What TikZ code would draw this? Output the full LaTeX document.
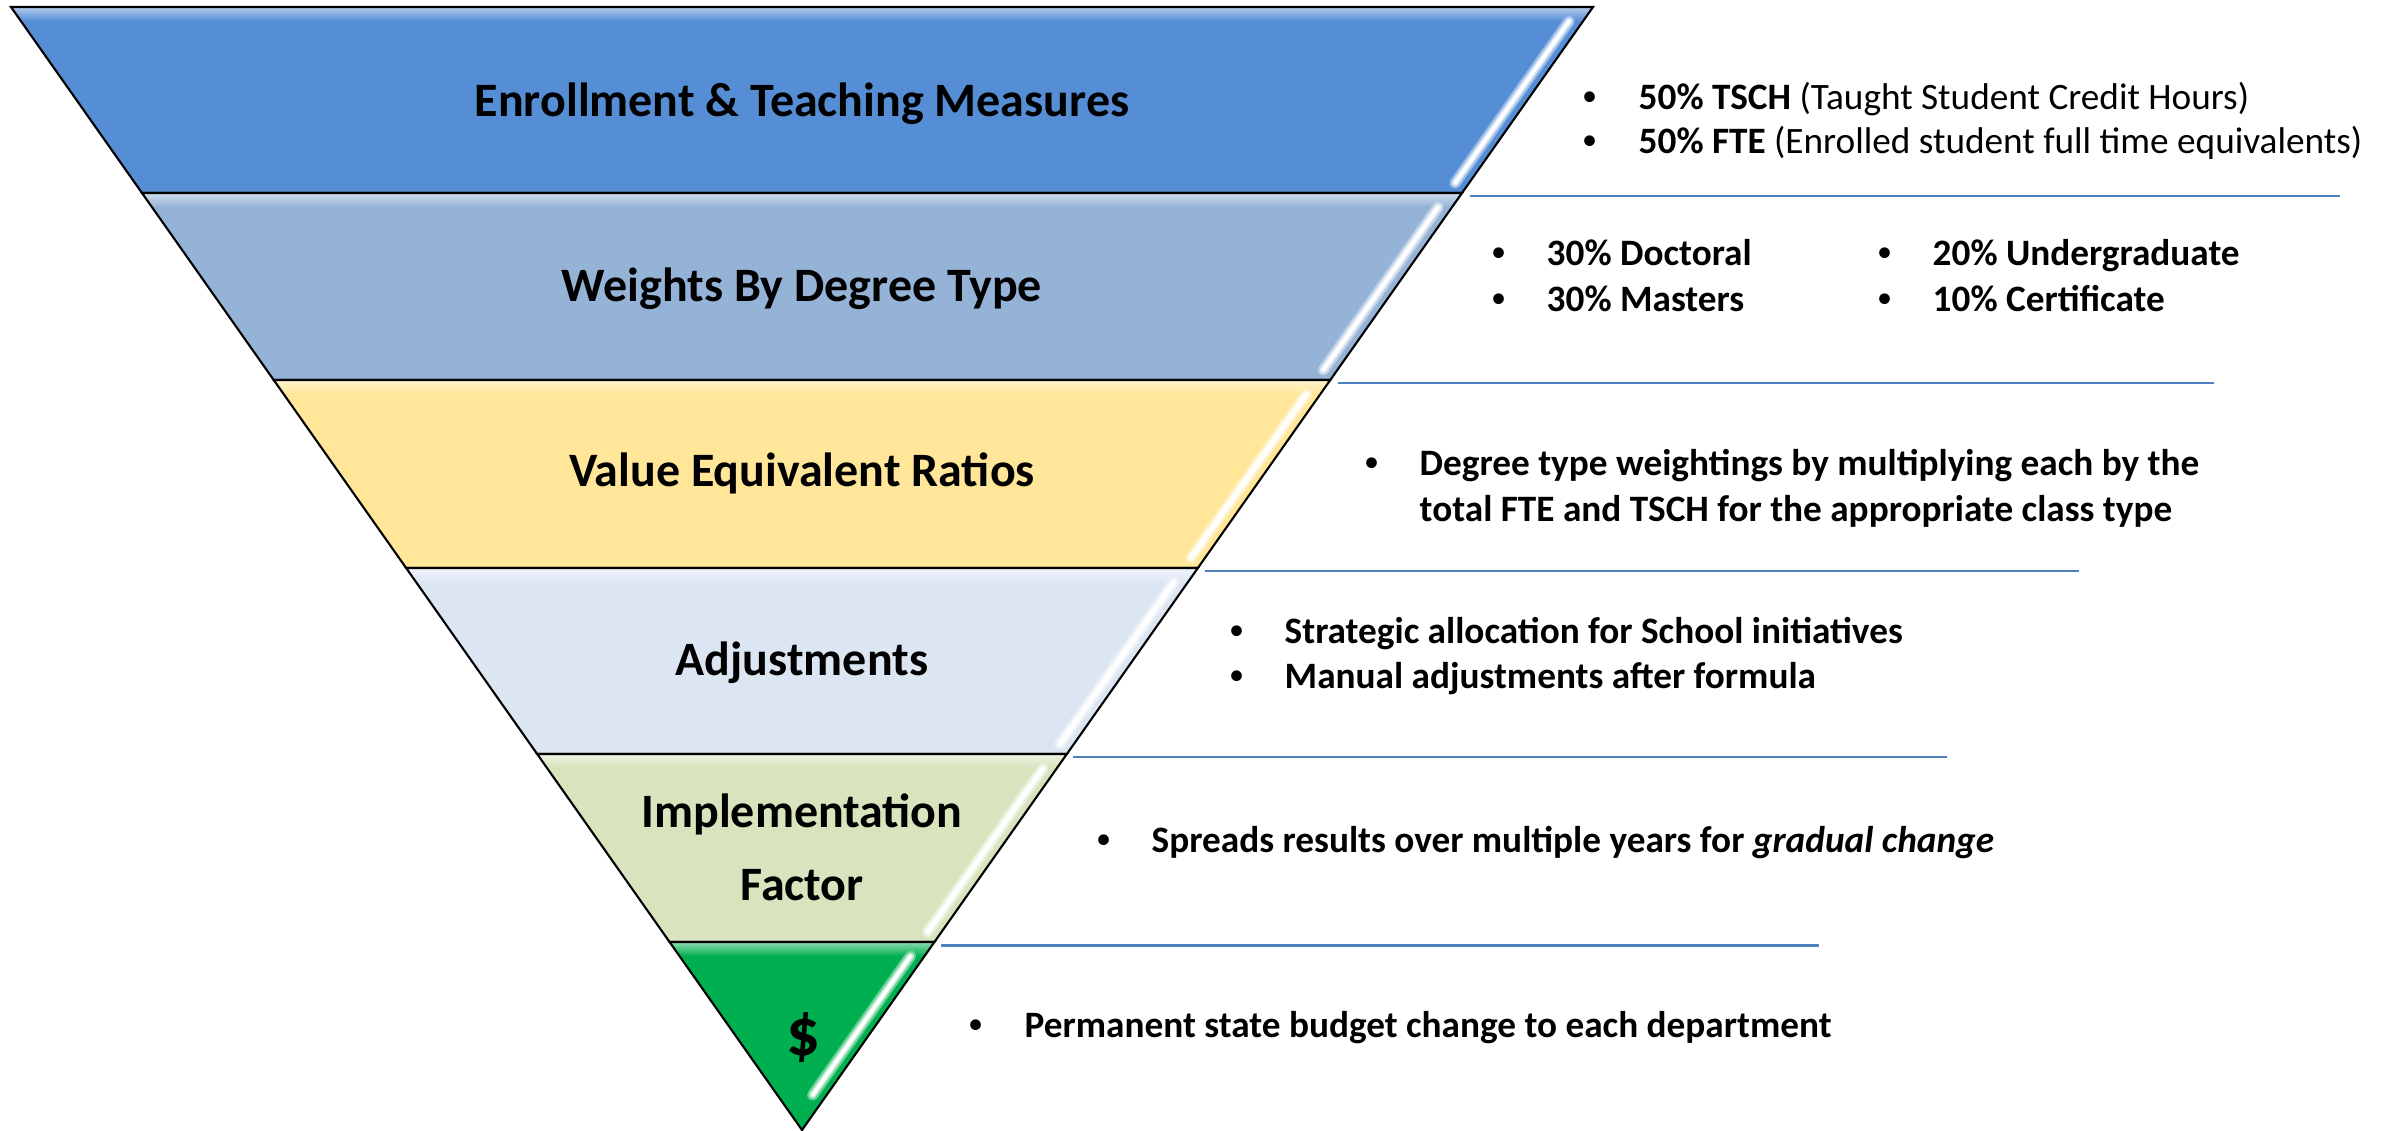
\documentclass[tikz,border=0pt]{standalone}
\usepackage{fontspec}
\setmainfont{Carlito}
\newfontfamily\bulfont{Liberation Sans}
\definecolor{cA}{HTML}{558ED5}
\definecolor{cB}{HTML}{95B3D7}
\definecolor{cC}{HTML}{FFE699}
\definecolor{cD}{HTML}{DCE6F2}
\definecolor{cE}{HTML}{D7E4BD}
\definecolor{cF}{HTML}{00B050}
\definecolor{lineblue}{HTML}{4F81BD}
\tikzset{
  title/.style={font=\fontsize{13.65}{16}\selectfont\bfseries, anchor=base, inner sep=0pt},
  bul/.style={font=\fontsize{10.6}{12}\selectfont\bfseries, anchor=base west, inner sep=0pt},
  dot/.style={font=\fontsize{10.6}{12}\selectfont\bulfont\bfseries, anchor=base west, inner sep=0pt},
  sepline/.style={draw=lineblue, line width=0.85pt},
  bandedge/.style={draw=black, line width=0.6pt, line join=miter},
}
% #1 name, #2 top y, #3 bottom y, #4 colour, #5 highlight end offset
\newcommand\drawband[5]{%
  \pgfmathsetmacro\hT{0.70437*(1130-#2)}%
  \pgfmathsetmacro\hB{0.70437*(1130-#3)}%
  \pgfmathsetmacro\yA{#2+14}%
  \pgfmathsetmacro\yB{#3-#5}%
  \pgfmathsetmacro\xA{802+0.70437*(1130-\yA)-14}%
  \pgfmathsetmacro\xB{802+0.70437*(1130-\yB)-14}%
  \coordinate (#1TL) at ({802-\hT},#2);
  \coordinate (#1TR) at ({802+\hT},#2);
  \coordinate (#1BR) at ({802+\hB},#3);
  \coordinate (#1BL) at ({802-\hB},#3);
  \coordinate (#1HA) at (\xA,\yA);
  \coordinate (#1HB) at (\xB,\yB);
  \begin{scope}
    \clip (#1TL) -- (#1TR) -- (#1BR) -- (#1BL) -- cycle;
    \fill[#4] (0,#2) rectangle (2394,#3);
    \shade[top color=#4!45!white, bottom color=#4] (0,#2) rectangle (2394,{#2+14});
    \draw[#4!60!white, line width=3.2pt, line cap=round] (#1HA) -- (#1HB);
    \draw[#4!25!white, line width=2pt, line cap=round] (#1HA) -- (#1HB);
    \draw[white, line width=1pt, line cap=round] (#1HA) -- (#1HB);
  \end{scope}
  \draw[bandedge] (#1TL) -- (#1TR) -- (#1BR) -- (#1BL) -- cycle;
}
\begin{document}
\begin{tikzpicture}[x=0.1mm,y=-0.1mm]
\useasboundingbox (0,0) rectangle (2394,1131);
\fill[white] (0,0) rectangle (2394,1131);

\drawband{bA}{7}{193}{cA}{10}
\drawband{bB}{193}{380}{cB}{10}
\drawband{bC}{380}{568}{cC}{10}
\drawband{bD}{568}{754}{cD}{10}
\drawband{bE}{754}{942}{cE}{10}
\drawband{bF}{942}{1130}{cF}{35}

% separator lines
\coordinate (s1a) at (1470,196); \coordinate (s1b) at (2340,196);
\coordinate (s2a) at (1338,383); \coordinate (s2b) at (2214,383);
\coordinate (s3a) at (1205,571); \coordinate (s3b) at (2079,571);
\coordinate (s4a) at (1073,757); \coordinate (s4b) at (1947,757);
\coordinate (s5a) at (941,945);  \coordinate (s5b) at (1819,945);
\draw[sepline] (s1a) -- (s1b);
\draw[sepline] (s2a) -- (s2b);
\draw[sepline] (s3a) -- (s3b);
\draw[sepline] (s4a) -- (s4b);
\draw[sepline] (s5a) -- (s5b);

% titles
\node[title] (tA) at (802,117) {Enrollment \& Teaching Measures};
\node[title] (tB) at (802,302) {Weights By Degree Type};
\node[title] (tC) at (802,487) {Value Equivalent Ratios};
\node[title] (tD) at (802,675) {Adjustments};
\node[title] (tE1) at (802,827) {Implementation};
\node[title] (tE2) at (802,900) {Factor};
\node[title, font=\fontsize{19}{21}\selectfont\bfseries] (tF) at (803,1055) {\$};

% band 1 text
\node[dot] (pA1) at (1583,110) {•};
\node[bul] (qA1) at (1638,110) {50\% TSCH \textmd{(Taught Student Credit Hours)}};
\node[dot] (pA2) at (1583,154) {•};
\node[bul] (qA2) at (1638,154) {50\% FTE \textmd{(Enrolled student full time equivalents)}};
% band 2 text
\node[dot] (pB1) at (1492,266) {•};
\node[bul] (qB1) at (1546,266) {30\% Doctoral};
\node[dot] (pB2) at (1492,312) {•};
\node[bul] (qB2) at (1546,312) {30\% Masters};
\node[dot] (pB3) at (1878,266) {•};
\node[bul] (qB3) at (1932,266) {20\% Undergraduate};
\node[dot] (pB4) at (1878,312) {•};
\node[bul] (qB4) at (1932,312) {10\% Certificate};
% band 3 text
\node[dot] (pC1) at (1365,475) {•};
\node[bul] (qC1) at (1419,475) {Degree type weightings by multiplying each by the};
\node[bul] (qC2) at (1419,521) {total FTE and TSCH for the appropriate class type};
% band 4 text
\node[dot] (pD1) at (1230,643) {•};
\node[bul] (qD1) at (1284,643) {Strategic allocation for School initiatives};
\node[dot] (pD2) at (1230,688) {•};
\node[bul] (qD2) at (1284,688) {Manual adjustments after formula};
% band 5 text
\node[dot] (pE1) at (1097,852) {•};
\node[bul] (qE1) at (1151,852) {Spreads results over multiple years for \textit{gradual change}};
% band 6 text
\node[dot] (pF1) at (969,1037) {•};
\node[bul] (qF1) at (1024,1037) {Permanent state budget change to each department};
\end{tikzpicture}
\end{document}
